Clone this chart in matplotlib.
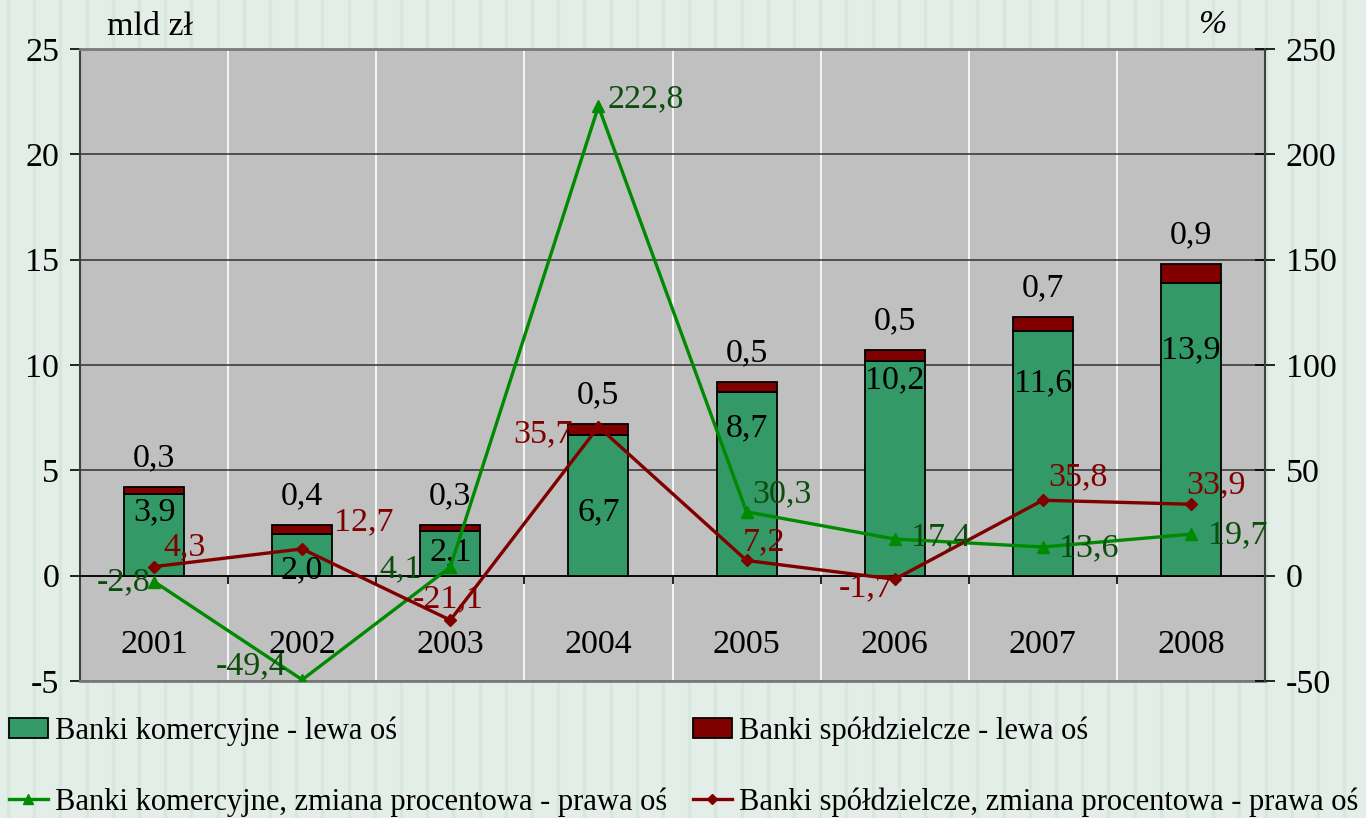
import numpy as np
import matplotlib.pyplot as plt
from matplotlib.lines import Line2D
from matplotlib.patches import Patch

plt.rcParams['font.family'] = ['Liberation Serif', 'DejaVu Serif']

# data
years = ['2001', '2002', '2003', '2004', '2005', '2006', '2007', '2008']
commercial = [3.9, 2.0, 2.1, 6.7, 8.7, 10.2, 11.6, 13.9]
cooperative = [0.3, 0.4, 0.3, 0.5, 0.5, 0.5, 0.7, 0.9]
comm_pct = [-2.8, -49.4, 4.1, 222.8, 30.3, 17.4, 13.6, 19.7]
coop_pct = [4.3, 12.7, -21.1, 70.7, 7.2, -1.7, 35.8, 33.9]
comm_pct_labels = ['-2,8', '-49,4', '4,1', '222,8', '30,3', '17,4', '13,6', '19,7']
coop_pct_labels = ['4,3', '12,7', '-21,1', '35,7', '7,2', '-1,7', '35,8', '33,9']

# colours
c_green_bar = '#339966'
c_red = '#800000'
c_green_line = '#008a00'
c_green_txt = '#0b4d0b'
bg = '#e3eee8'
fs = 24.5

fig = plt.figure(figsize=(13.66, 8.18), dpi=100, facecolor=bg)
# striped background
for px in np.arange(8, 1366, 26.2):
    fig.add_artist(Line2D([px / 1366, px / 1366], [0, 1], color='#d7e7dd', lw=2.5, zorder=-5))

ax = fig.add_axes([80 / 1366, 1 - 681 / 818, 1185 / 1366, 632 / 818])
ax.set_facecolor('#c0c0c0')
ax2 = ax.twinx()

x = np.arange(len(years))
bw = 0.405
ax.bar(x, commercial, bw, color=c_green_bar, edgecolor='black', lw=1.3, zorder=3)
ax.bar(x, cooperative, bw, bottom=commercial, color=c_red, edgecolor='black', lw=1.3, zorder=3)

ax.set_xlim(-0.5, len(years) - 0.5)
ax.set_ylim(-5, 25)
ax.set_yticks(range(-5, 26, 5))
ax.set_yticklabels([str(v) for v in range(-5, 26, 5)])
ax.grid(axis='y', color='#303030', lw=1.1, zorder=1)
for b in np.arange(0.5, len(years) - 0.5, 1):
    ax.axvline(b, color='white', lw=1.2, zorder=1)

ax.spines['bottom'].set_position(('data', 0))
ax.spines['bottom'].set_color('black')
ax.spines['bottom'].set_linewidth(1.2)
ax.spines['top'].set_color('#7a7a7a')
ax.spines['top'].set_linewidth(2)
ax.spines['left'].set_color('#404040')
ax.spines['left'].set_linewidth(1.5)
ax.spines['right'].set_visible(False)
ax.add_line(Line2D([0, 1], [0, 0], transform=ax.transAxes, color='#7a7a7a', lw=2, clip_on=False, zorder=5))

ax.set_xticks(x)
ax.set_xticklabels(years)
ax.set_xticks(np.arange(0.5, len(years) - 0.5, 1), minor=True)
ax.tick_params(axis='x', which='major', length=0, pad=39, labelsize=fs)
ax.tick_params(axis='x', which='minor', length=6, width=1.2, direction='out')
ax.tick_params(axis='y', length=7, width=1.2, direction='out', labelsize=fs, pad=8)

ax2.set_ylim(-50, 250)
ax2.set_yticks(range(-50, 251, 50))
ax2.set_yticklabels([str(v) for v in range(-50, 251, 50)])
ax2.tick_params(axis='y', length=14, width=1.2, direction='inout', labelsize=fs, pad=8)
for s in ['top', 'bottom', 'left']:
    ax2.spines[s].set_visible(False)
ax2.spines['right'].set_color('#404040')
ax2.spines['right'].set_linewidth(1.5)

ax2.plot(x, comm_pct, color=c_green_line, lw=2.4, marker='^', ms=9, zorder=4)
ax2.plot(x, coop_pct, color=c_red, lw=2.4, marker='D', ms=6.5, zorder=4)

# bar labels
comm_label_y = [3.0, 0.28, 1.14, 3.0, 7.02, 9.3, 9.16, 10.7]
for i in range(len(years)):
    ax.text(x[i], comm_label_y[i], f'{commercial[i]:.1f}'.replace('.', ','),
            ha='center', va='center', fontsize=fs, zorder=6)
    ax.annotate(f'{cooperative[i]:.1f}'.replace('.', ','),
                (x[i], commercial[i] + cooperative[i]), xytext=(0, 29),
                textcoords='offset pixels', ha='center', va='center', fontsize=fs)

# line labels: (dx, dy, ha) in pixels
comm_off = [(-4, 0, 'right'), (-16, 14, 'right'), (-29, -2, 'right'), (9, 7, 'left'),
            (6, 18, 'left'), (16, 2, 'left'), (16, -1, 'left'), (17, -1, 'left')]
coop_off = [(9, 20, 'left'), (32, 27, 'left'), (-2, 21, 'center'), (-26, -7, 'right'),
            (-4, 18, 'left'), (-2, -9, 'right'), (5, 23, 'left'), (-5, 19, 'left')]
for i in range(len(years)):
    dx, dy, ha = comm_off[i]
    ax2.annotate(comm_pct_labels[i], (x[i], comm_pct[i]), xytext=(dx, dy),
                 textcoords='offset pixels', ha=ha, va='center', fontsize=fs,
                 color=c_green_txt, zorder=6)
    dx, dy, ha = coop_off[i]
    ax2.annotate(coop_pct_labels[i], (x[i], coop_pct[i]), xytext=(dx, dy),
                 textcoords='offset pixels', ha=ha, va='center', fontsize=fs,
                 color=c_red, zorder=6)

fig.text(150 / 1366, 1 - 27 / 818, 'mld zł', ha='center', va='center', fontsize=fs)
fig.text(1212 / 1366, 1 - 25 / 818, '%', ha='center', va='center', fontsize=fs, style='italic')

# legend
entries = [
    (Patch(facecolor=c_green_bar, edgecolor='black', lw=1.3), 'Banki komercyjne - lewa oś', 9, 731),
    (Patch(facecolor=c_red, edgecolor='black', lw=1.3), 'Banki spółdzielcze - lewa oś', 693, 731),
    (Line2D([], [], color=c_green_line, lw=2.4, marker='^', ms=7), 'Banki komercyjne, zmiana procentowa - prawa oś', 9, 802),
    (Line2D([], [], color=c_red, lw=2.4, marker='D', ms=5), 'Banki spółdzielcze, zmiana procentowa - prawa oś', 693, 802),
]
for h, lab, px, py in entries:
    fig.legend(handles=[h], labels=[lab], loc='center left',
               bbox_to_anchor=(px / 1366, 1 - py / 818), frameon=False,
               fontsize=22, handlelength=1.27, handleheight=0.65,
               handletextpad=0.25, borderpad=0, borderaxespad=0)

fig.savefig('out.png', dpi=100, facecolor=bg)
